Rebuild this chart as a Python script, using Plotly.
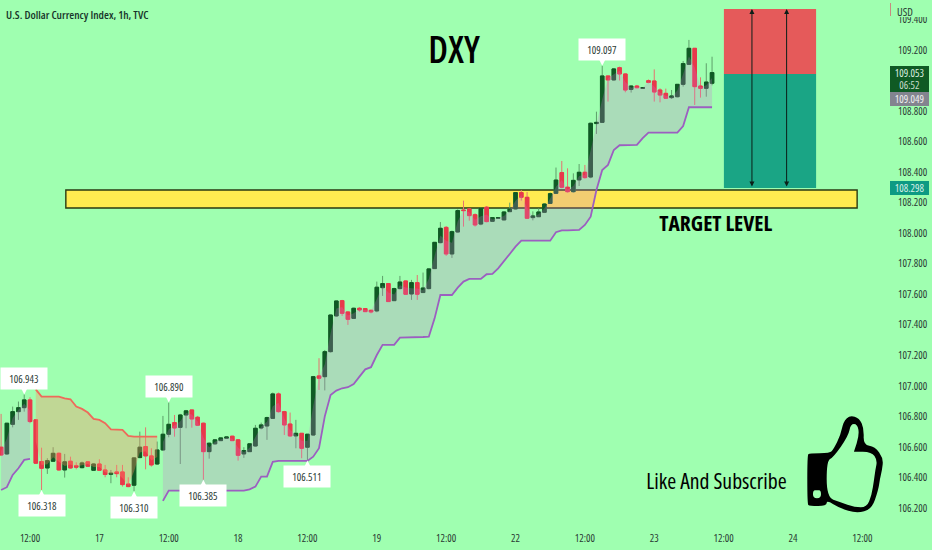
import plotly.graph_objects as go

W = 932
H = 550

bars = list(range(-5, 119))
opens = [
    106.598,106.554,106.748,106.831,106.857,106.908,106.777,106.504,106.462,106.506,
    106.558,106.449,106.506,106.477,106.464,106.502,106.447,106.488,106.449,106.421,
    106.436,106.436,106.357,106.349,106.530,106.602,106.541,106.488,106.580,106.683,
    106.759,106.728,106.809,106.842,106.794,106.755,106.569,106.620,106.641,106.657,
    106.670,106.646,106.554,106.569,106.606,106.724,106.737,106.787,106.947,106.831,
    106.750,106.672,106.689,106.598,106.678,107.065,107.060,107.224,107.458,107.558,
    107.484,107.442,107.508,107.506,107.495,107.491,107.643,107.670,107.558,107.637,
    107.687,107.602,107.676,107.611,107.637,107.768,107.938,108.038,107.864,108.008,
    108.152,108.159,108.121,108.060,108.170,108.078,108.098,108.087,108.141,108.159,
    108.266,108.235,108.102,108.108,108.137,108.195,108.261,108.397,108.301,108.272,
    108.349,108.399,108.368,108.718,108.726,109.030,109.004,109.084,109.043,108.942,
    108.964,108.949,108.999,108.997,108.938,108.916,108.888,108.894,108.975,109.106,
    109.211,108.964,108.949,108.982]
highs = [
    106.816,106.757,106.864,106.897,106.943,106.925,106.777,106.595,106.526,106.598,
    106.563,106.554,106.536,106.499,106.504,106.504,106.493,106.519,106.482,106.449,
    106.482,106.482,106.401,106.532,106.700,106.728,106.591,106.635,106.803,106.890,
    106.809,106.816,106.842,106.842,106.803,106.759,106.628,106.650,106.661,106.667,
    106.672,106.650,106.598,106.624,106.744,106.759,106.798,106.956,106.956,106.836,
    106.825,106.777,106.689,106.683,107.065,107.181,107.235,107.466,107.558,107.563,
    107.486,107.512,107.515,107.510,107.497,107.683,107.720,107.672,107.643,107.720,
    107.689,107.694,107.726,107.742,107.770,107.942,108.073,108.047,108.017,108.156,
    108.213,108.163,108.130,108.167,108.178,108.104,108.104,108.143,108.200,108.268,
    108.283,108.270,108.143,108.163,108.195,108.266,108.430,108.473,108.425,108.392,
    108.453,108.447,108.724,108.796,109.097,109.030,109.082,109.091,109.047,108.968,
    108.971,108.955,109.007,109.073,108.949,108.947,108.938,108.977,109.128,109.266,
    109.211,109.021,109.113,109.156]
lows = [
    106.543,106.547,106.728,106.777,106.831,106.755,106.490,106.318,106.423,106.504,
    106.445,106.399,106.458,106.453,106.460,106.471,106.445,106.443,106.401,106.362,
    106.401,106.340,106.336,106.310,106.526,106.453,106.471,106.482,106.576,106.663,
    106.667,106.488,106.722,106.726,106.737,106.385,106.523,106.615,106.639,106.655,
    106.639,106.510,106.528,106.567,106.602,106.715,106.646,106.783,106.825,106.678,
    106.667,106.591,106.526,106.511,106.674,106.973,106.970,107.218,107.453,107.458,
    107.399,107.438,107.486,107.484,107.475,107.482,107.589,107.550,107.556,107.632,
    107.595,107.563,107.563,107.609,107.632,107.766,107.934,107.851,107.838,108.004,
    108.043,108.082,108.043,108.052,108.071,108.073,108.096,108.085,108.139,108.156,
    108.213,108.093,108.084,108.106,108.132,108.191,108.259,108.294,108.266,108.266,
    108.309,108.357,108.360,108.650,108.724,108.862,109.000,109.000,108.923,108.921,
    108.949,108.947,108.982,108.862,108.857,108.879,108.879,108.890,108.960,109.102,
    108.840,108.888,108.894,108.969]
closes = [
    106.547,106.755,106.831,106.857,106.908,106.766,106.493,106.460,106.510,106.558,
    106.449,106.502,106.462,106.467,106.495,106.473,106.488,106.447,106.419,106.427,
    106.425,106.353,106.340,106.528,106.598,106.541,106.482,106.580,106.683,106.748,
    106.724,106.809,106.836,106.783,106.742,106.569,106.624,106.646,106.659,106.665,
    106.641,106.545,106.576,106.620,106.722,106.744,106.792,106.947,106.831,106.744,
    106.672,106.689,106.591,106.683,107.060,107.050,107.224,107.464,107.556,107.475,
    107.436,107.508,107.497,107.486,107.484,107.646,107.670,107.552,107.637,107.680,
    107.600,107.676,107.600,107.641,107.766,107.940,108.032,107.864,108.010,108.148,
    108.148,108.115,108.054,108.163,108.076,108.102,108.102,108.139,108.159,108.266,
    108.235,108.098,108.113,108.139,108.191,108.259,108.348,108.301,108.272,108.346,
    108.399,108.364,108.720,108.726,109.030,109.004,109.076,109.043,108.938,108.964,
    108.953,108.953,108.988,108.925,108.905,108.884,108.899,108.975,109.111,109.211,
    108.960,108.949,108.990,109.052]

stop_up_a = [106.318,106.336,106.416,106.460,106.515,106.521]
stop_down = [
    106.977,106.929,106.929,106.929,106.929,106.918,106.912,106.864,106.849,106.825,
    106.783,106.777,106.755,106.715,106.715,106.711,106.672,106.667,106.667,106.667,
    106.667,106.667]
stop_up_b = [
    106.246,106.314,106.314,106.314,106.314,106.314,106.314,106.314,106.314,106.314,
    106.314,106.314,106.314,106.314,106.314,106.322,106.340,106.405,106.405,106.502,
    106.508,106.508,106.508,106.508,106.508,106.508,106.536,106.591,106.800,106.940,
    106.969,106.984,106.991,107.012,107.060,107.108,107.122,107.202,107.268,107.268,
    107.268,107.316,107.316,107.318,107.318,107.320,107.322,107.442,107.595,107.595,
    107.595,107.643,107.683,107.700,107.700,107.700,107.731,107.733,107.770,107.814,
    107.864,107.912,107.951,107.951,107.951,107.951,107.951,107.951,108.006,108.019,
    108.019,108.019,108.021,108.054,108.108,108.283,108.414,108.447,108.545,108.576,
    108.576,108.576,108.578,108.622,108.659,108.659,108.659,108.659,108.659,108.659,
    108.702,108.825,108.825,108.825,108.825,108.825]

pivot_bars = [-1, 2, 18, 24, 30, 48, 99]
pivot_values = [106.943, 106.318, 106.310, 106.890, 106.385, 106.511, 109.097]
pivot_above = [True, False, False, True, False, False, True]

x_tickvals = list(range(0, 145, 12))
x_ticktext = ["12:00", "17", "12:00", "18", "12:00", "19", "12:00", "22", "12:00", "23", "12:00", "24", "12:00"]
y_tickvals = [106.2, 106.4, 106.6, 106.8, 107.0, 107.2, 107.4, 107.6, 107.8, 108.0, 108.2, 108.4, 108.6, 108.8, 109.0, 109.2, 109.4]

zone_bars = [6.2, 143.1]
zone_prices = [108.165, 108.283]
stop_box_bars = [120.05, 136]
stop_box_prices = [109.043, 109.469]
target_box_prices = [108.296, 109.043]
arrow_bars = [124.9, 130.9]

BG = "#9FFFB0"
UP = "#0F5A24"
DOWN = "#E8394A"
UP_WICK = "#5E9F6A"
DOWN_WICK = "#E5736F"
FONT = "Open Sans"


def px(x):
    return x / W


def py(y):
    return 1 - y / H


fig = go.Figure()


def add_stop(start, values, line_color, fill_color):
    xs = bars[start:start + len(values)]
    mids = [(o + c) / 2 for o, c in zip(opens[start:], closes[start:])][:len(values)]
    fig.add_trace(go.Scatter(x=xs, y=mids, mode="lines", line=dict(width=0), hoverinfo="skip"))
    fig.add_trace(go.Scatter(x=xs, y=values, mode="lines", fill="tonexty", fillcolor=fill_color,
                             line=dict(color=line_color, width=1.8, shape="linear")))


add_stop(0, stop_up_a, "#9C5FC0", "rgba(204,116,212,0.25)")
add_stop(6, stop_down, "#EE6A5A", "rgba(255,140,100,0.35)")
add_stop(28, stop_up_b, "#9C5FC0", "rgba(204,116,212,0.25)")

# wicks are lighter than bodies, so draw the full candle first and the body on top
fig.add_trace(go.Candlestick(x=bars, open=opens, high=highs, low=lows, close=closes,
                             increasing=dict(line=dict(color=UP_WICK, width=1), fillcolor=UP),
                             decreasing=dict(line=dict(color=DOWN_WICK, width=1), fillcolor=DOWN)))
fig.add_trace(go.Candlestick(x=bars, open=opens, close=closes,
                             high=[max(o, c) for o, c in zip(opens, closes)],
                             low=[min(o, c) for o, c in zip(opens, closes)],
                             increasing=dict(line=dict(color=UP, width=1), fillcolor=UP),
                             decreasing=dict(line=dict(color=DOWN, width=1), fillcolor=DOWN)))

shapes = [
    dict(type="rect", layer="below", xref="x", yref="y", x0=zone_bars[0], x1=zone_bars[1],
         y0=zone_prices[0], y1=zone_prices[1], fillcolor="#FFEB50", line=dict(color="#2A3A10", width=1.4)),
    dict(type="rect", layer="below", xref="x", yref="y", x0=stop_box_bars[0], x1=stop_box_bars[1],
         y0=stop_box_prices[0], y1=stop_box_prices[1], fillcolor="#E55A5A", line=dict(width=0)),
    dict(type="rect", layer="below", xref="x", yref="y", x0=stop_box_bars[0], x1=stop_box_bars[1],
         y0=target_box_prices[0], y1=target_box_prices[1], fillcolor="#1AA585", line=dict(width=0)),
]


def thumb_xy(xz, yz):
    return f"{px(600 + xz / 3):.4f},{py(400 + yz / 3):.4f}"


def smooth_closed(points):
    # midpoints joined by quadratic curves, doubled points keep a corner tighter
    mids = [((a[0] + b[0]) / 2, (a[1] + b[1]) / 2) for a, b in zip(points, points[1:] + points[:1])]
    path = "M" + thumb_xy(*mids[-1])
    for p, m in zip(points, mids):
        path += " Q" + thumb_xy(*p) + " " + thumb_xy(*m)
    return path + " Z "


thumb_outer = [(628, 160), (690, 160), (700, 148), (722, 105), (730, 65), (750, 46), (778, 55), (792, 85), (790, 135),
               (825, 140), (850, 175), (846, 210), (840, 235), (835, 270), (815, 328), (770, 340), (720, 325),
               (680, 300), (680, 318), (628, 318), (622, 312), (622, 166)]
thumb_inner = [(680, 182), (700, 172), (745, 108), (752, 72), (772, 72), (778, 105), (762, 155), (762, 155), (815, 156),
               (832, 180), (826, 210), (822, 240), (815, 285), (800, 322), (765, 322), (720, 306), (680, 292)]
thumb_hole = [(651, 271), (663, 271), (663, 295), (639, 295), (639, 271)]
shapes.append(dict(type="path", xref="paper", yref="paper", fillrule="evenodd", fillcolor="black",
                   path=smooth_closed(thumb_outer) + smooth_closed(thumb_inner) + smooth_closed(thumb_hole),
                   line=dict(width=0)))

# covers the top half of the clipped axis label under USD
shapes.append(dict(type="rect", xref="paper", yref="paper", x0=px(888), x1=1, y0=py(17), y1=1,
                   fillcolor=BG, line=dict(width=0)))
shapes.append(dict(type="line", xref="paper", yref="paper", x0=px(890.5), x1=px(890.5), y0=py(3), y1=py(16),
                   line=dict(color="#C98A80", width=1)))
for y0, y1, color in [(66, 92, "#0F5A24"), (92, 106, "#83848F"), (181, 195, "#0D9A83")]:
    shapes.append(dict(type="rect", xref="paper", yref="paper", x0=px(890), x1=px(929), y0=py(y1), y1=py(y0),
                       fillcolor=color, line=dict(width=0)))


def text_at(x, y, text, size, color="black", weight="normal"):
    # centred on purpose: box widths are measured before the condensed style lands
    return dict(xref="paper", yref="paper", x=px(x), y=py(y), text=text, showarrow=False, xanchor="center",
                yanchor="middle", font=dict(size=size, color=color, family=FONT, weight=weight))


annotations = [
    text_at(77.5, 14, "U.S. Dollar Currency Index, 1h, TVC", 11.3, "#17352A", weight=600),
    text_at(454, 48, "DXY", 37, weight=600),
    text_at(715, 222.5, "TARGET LEVEL", 21.5, weight=700),
    text_at(716, 480.5, "Like And Subscribe", 21.7),
    text_at(905, 11, "USD", 11, "#2A3A34"),
    text_at(909.5, 73, "109.053", 10.5, "#DDEFE0"),
    text_at(909.5, 85, "06:52", 10.5, "#C8DCCB"),
    text_at(909.5, 99, "109.049", 10.5, "#F0F0F0"),
    text_at(909.5, 188, "108.298", 10.5, "#D8F0E8"),
]
for arrow_bar in arrow_bars:
    annotations.append(dict(xref="x", yref="y", axref="x", ayref="y", x=arrow_bar, y=stop_box_prices[1],
                            ax=arrow_bar, ay=target_box_prices[0], text="", showarrow=True, arrowside="end+start",
                            arrowhead=2, arrowsize=1, arrowwidth=1, arrowcolor="#0B1F18"))
for bar, value, above in zip(pivot_bars, pivot_values, pivot_above):
    # pointer and label are separate, a long arrow on the label itself runs over its digits
    annotations.append(dict(xref="x", yref="y", x=bar, y=value, text="", showarrow=True,
                            ax=0, ay=-7 if above else 7, arrowhead=2, arrowsize=1.2, arrowwidth=3,
                            arrowcolor="white", standoff=0))
    annotations.append(dict(xref="x", yref="y", x=bar, y=value, text=f"{value:.3f}", showarrow=False,
                            yshift=16 if above else -16, bgcolor="white", borderpad=3.5,
                            font=dict(size=10.5, color="#2A3A34", family=FONT)))

tick_font = dict(family=FONT, size=10.5, color="#2A3A34")
fig.update_layout(
    width=W, height=H, showlegend=False, paper_bgcolor=BG, plot_bgcolor=BG,
    margin=dict(l=0, r=0, t=0, b=0, autoexpand=False), shapes=shapes, annotations=annotations, boxgap=0.12,
    font=dict(family=FONT, size=10.5, color="#2A3A34"),
    xaxis=dict(domain=[0, 888 / W], range=[-5.19, 148.44], tickmode="array", tickvals=x_tickvals,
               ticktext=x_ticktext, tickfont=tick_font, showgrid=False, zeroline=False, showline=False,
               ticks="", rangeslider=dict(visible=False), ticklabelstandoff=8),
    yaxis=dict(domain=[28 / H, 1], range=[106.108, 109.5275], side="right", tickmode="array",
               tickvals=y_tickvals, ticktext=[f"{v:.3f}" for v in y_tickvals], tickfont=tick_font,
               showgrid=False, zeroline=False, showline=False, ticks="", ticklabelstandoff=9),
)

# body margin would push the chart off the window, condensed text needs a redraw to re-measure
page_js = """
document.body.style.margin = '0';
var style = document.createElement('style');
style.textContent = 'text { font-stretch: 75%; }';
document.head.appendChild(style);
Plotly.redraw('{plot_id}');
"""
fig.write_html("out.html", config=dict(displayModeBar=False), post_script=page_js)
